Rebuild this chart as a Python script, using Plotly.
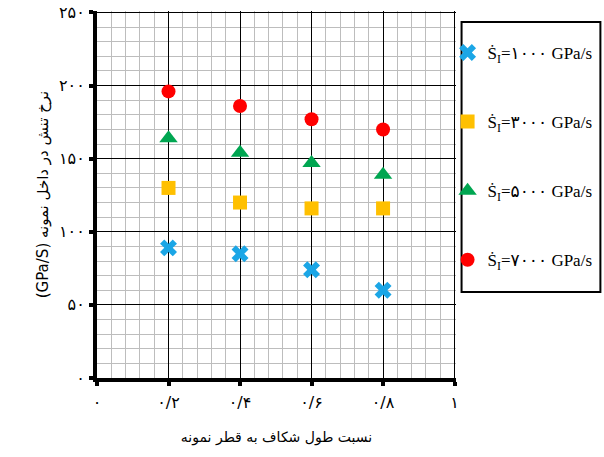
import plotly.graph_objects as go

# ---- data ----
crack_ratio = [0.2, 0.4, 0.6, 0.8]
rate_1000 = [89, 85, 74, 60]
rate_3000 = [130, 120, 116, 116]
rate_5000 = [164, 154, 147, 139]
rate_7000 = [196, 186, 177, 170]

series_names = [
    "Ṡ<sub>I</sub>=۱۰۰۰ GPa/s",
    "Ṡ<sub>I</sub>=۳۰۰۰ GPa/s",
    "Ṡ<sub>I</sub>=۵۰۰۰ GPa/s",
    "Ṡ<sub>I</sub>=۷۰۰۰ GPa/s",
]

x_tickvals = [0, 0.2, 0.4, 0.6, 0.8, 1.0]
x_ticktext = ["۰", "۰/۲", "۰/۴", "۰/۶", "۰/۸", "۱"]
y_tickvals = [0, 50, 100, 150, 200, 250]
y_ticktext = ["۰", "۵۰", "۱۰۰", "۱۵۰", "۲۰۰", "۲۵۰"]

x_title = "نسبت طول شکاف به قطر نمونه"
# visual order for a left-to-right SVG line: unit first, Persian phrase after
y_title = "(GPa/S) نرخ تنش در داخل نمونه"

# ---- styles ----
styles = [
    dict(symbol="x", color="#1BA6E6", size=15),
    dict(symbol="square", color="#FFC000", size=14),
    dict(symbol="triangle-up", color="#00A651", size=16),
    dict(symbol="circle", color="#FF0000", size=14),
]

fig = go.Figure()
for i, (vals, name, st) in enumerate(zip([rate_1000, rate_3000, rate_5000, rate_7000], series_names, styles)):
    fig.add_trace(go.Scatter(
        x=crack_ratio, y=vals, mode="markers", name=name,
        legendgroup=f"g{i}",
        marker=dict(symbol=st["symbol"], color=st["color"], size=st["size"], line=dict(width=0)),
    ))

W, H = 604, 457
YMAX, XMAX = 251, 1.004               # small headroom so edge grid lines are kept
PL, PB = 97, 378                      # px of x=0 / y=0
PX1, PY250 = 455, 12.5                # px of x=1 / y=250
PR = PL + (PX1 - PL) * XMAX
PT = PB - (PB - PY250) * YMAX / 250
pw, ph = PR - PL, PB - PT

arabic_font = "DejaVu Sans"
fig.update_layout(
    width=W, height=H,
    margin=dict(l=PL, r=W - PR, t=PT, b=H - PB, autoexpand=False),
    paper_bgcolor="white", plot_bgcolor="white",
    font=dict(family="Liberation Serif, DejaVu Sans", color="black"),
    showlegend=True,
    legend=dict(
        x=(448 - PL) / pw, y=(PB - 35) / ph, xanchor="left", yanchor="top",
        bgcolor="rgba(0,0,0,0)", borderwidth=0,
        font=dict(family="Liberation Serif, DejaVu Sans", size=17, color="black"),
        tracegroupgap=44,
    ),
    shapes=[dict(type="rect", xref="paper", yref="paper",
                 x0=(462 - PL) / pw, x1=(601 - PL) / pw,
                 y0=(PB - 292) / ph, y1=(PB - 22) / ph,
                 line=dict(color="black", width=2), fillcolor="rgba(0,0,0,0)")],
)

fig.update_xaxes(
    range=[0, XMAX], tickmode="array", tickvals=x_tickvals, ticktext=x_ticktext,
    showgrid=True, gridcolor="black", gridwidth=1.3,
    minor=dict(dtick=0.04, tick0=0, showgrid=True, gridcolor="#bdbdbd", gridwidth=1.4),
    showline=True, linecolor="black", linewidth=4, zeroline=False,
    ticks="outside", ticklen=4, tickwidth=4, tickcolor="black",
    tickfont=dict(family=arabic_font, size=16, color="black"),
    ticklabelstandoff=3, automargin=False, ticklabeloverflow="allow",
    title=dict(text=x_title, font=dict(family=arabic_font, size=14, color="black"), standoff=22),
)
fig.update_yaxes(
    range=[0, YMAX], tickmode="array", tickvals=y_tickvals, ticktext=y_ticktext,
    showgrid=True, gridcolor="black", gridwidth=1.3,
    minor=dict(dtick=10, tick0=0, showgrid=True, gridcolor="#bdbdbd", gridwidth=1.4),
    showline=True, linecolor="black", linewidth=4, zeroline=False,
    ticks="outside", ticklen=4, tickwidth=4, tickcolor="black",
    tickfont=dict(family=arabic_font, size=16, color="black"),
    ticklabelstandoff=1, automargin=False, ticklabeloverflow="allow",
    title=dict(text=y_title, font=dict(family=arabic_font, size=15, color="black"), standoff=8),
)

# remove the browser's default 8px page margin so the figure sits at the window origin
fig.write_html("out.html", config={"displayModeBar": False},
               post_script="document.body.style.margin='0';")
